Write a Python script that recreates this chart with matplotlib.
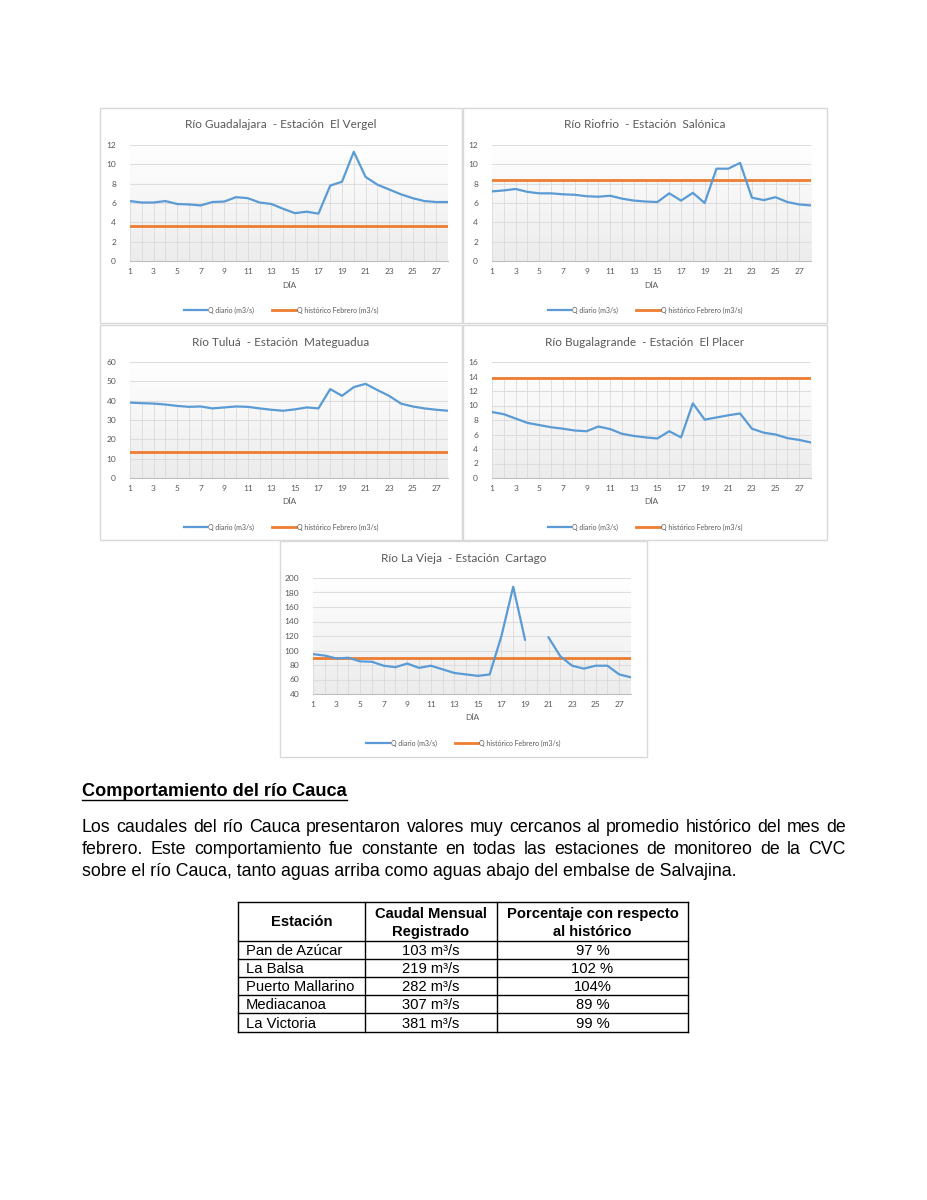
import numpy as np
import matplotlib.pyplot as plt
from matplotlib.colors import LinearSegmentedColormap
from matplotlib.lines import Line2D
from matplotlib.patches import Rectangle

# ---- data ----
days = np.arange(1, 29)

guadalajara = [6.2, 6.05, 6.05, 6.2, 5.9, 5.85, 5.75, 6.1, 6.15, 6.6, 6.5, 6.05, 5.9, 5.4,
               4.95, 5.1, 4.9, 7.8, 8.2, 11.3, 8.7, 7.9, 7.4, 6.9, 6.5, 6.2, 6.1, 6.1]
guadalajara_hist = 3.6

riofrio = [7.2, 7.3, 7.45, 7.15, 7.0, 7.0, 6.9, 6.85, 6.7, 6.65, 6.75, 6.45, 6.25, 6.15,
           6.1, 7.0, 6.25, 7.05, 6.0, 9.55, 9.55, 10.15, 6.55, 6.3, 6.6, 6.1, 5.85, 5.75]
riofrio_hist = 8.4

tulua = [39, 38.7, 38.5, 38, 37.3, 36.8, 37, 36, 36.5, 37, 36.8, 36, 35.3, 34.8,
         35.5, 36.5, 36, 46, 42.5, 47, 48.7, 45.5, 42.5, 38.5, 37, 36, 35.3, 34.8]
tulua_hist = 13.7

bugalagrande = [9.1, 8.8, 8.2, 7.6, 7.3, 7.0, 6.8, 6.55, 6.45, 7.1, 6.75, 6.1, 5.8, 5.6,
                5.45, 6.45, 5.6, 10.3, 8.05, 8.35, 8.65, 8.9, 6.8, 6.25, 6.0, 5.5, 5.25, 4.9]
bugalagrande_hist = 13.8

lavieja = [95, 93, 89, 90, 85, 84.5, 79, 77, 82, 76, 79, 74, 69, 67,
           65, 67, 120, 188, 115, np.nan, 118, 92, 79, 75, 79, 79, 67, 63]
lavieja_hist = 89

stations = ["Pan de Azúcar", "La Balsa", "Puerto Mallarino", "Mediacanoa", "La Victoria"]
caudal = [103, 219, 282, 307, 381]
porcentaje = ["97 %", "102 %", "104%", "89 %", "99 %"]

W, H = 927, 1200
BLUE = "#5B9BD5"
ORANGE = "#ED7D31"
GRAY = "#595959"
CFONT = "Lato"

fig = plt.figure(figsize=(W / 100, H / 100), dpi=100)
page = fig.add_axes([0, 0, 1, 1])
page.set_xlim(0, W)
page.set_ylim(H, 0)
page.axis("off")

# white at the top, light gray at the bottom of each plot area
grad = np.linspace(0, 1, 100).reshape(-1, 1)
grad_cmap = LinearSegmentedColormap.from_list("g", ["#ffffff", "#ececec"])


def chart(box, px0, px1, title, q, hist, ymin, ymax, step):
    bx0, by0, bx1, by1 = box
    page.add_patch(Rectangle((bx0, by0), bx1 - bx0, by1 - by0, fill=False,
                             edgecolor="#d9d9d9", lw=1))
    py0, py1 = by0 + 37, by0 + 153
    ax = fig.add_axes([px0 / W, 1 - py1 / H, (px1 - px0) / W, (py1 - py0) / H])
    ax.patch.set_alpha(0)
    ax.imshow(grad, extent=[0, 1, 0, 1], transform=ax.transAxes, cmap=grad_cmap,
              aspect="auto", zorder=0)
    q = np.array(q, dtype=float)
    ax.set_xlim(1, 28)
    ax.set_ylim(ymin, ymax)
    ax.set_yticks(np.arange(ymin, ymax + step / 2, step))
    ax.set_xticks(np.arange(1, 29, 2))
    ax.yaxis.grid(True, color="#dedede", lw=0.8)
    ax.set_axisbelow(True)
    top = np.fmax(q, hist)
    ax.vlines(days, ymin, top, color="#d6d6d6", lw=0.5, zorder=1)
    ax.plot(days, q, color=BLUE, lw=1.6, zorder=3)
    ax.plot(days, np.full(len(days), hist), color=ORANGE, lw=2.0, zorder=2)
    for s in ["top", "left", "right"]:
        ax.spines[s].set_visible(False)
    ax.spines["bottom"].set_color("#bfbfbf")
    ax.tick_params(length=0, labelsize=6, labelcolor=GRAY)
    ax.tick_params(axis="y", pad=10)
    ax.tick_params(axis="x", pad=5)
    for lab in ax.get_xticklabels() + ax.get_yticklabels():
        lab.set_fontfamily(CFONT)
    cx = (bx0 + bx1) / 2
    page.text(cx, by0 + 17, title, ha="center", va="center", fontsize=8.5,
              color=GRAY, family=CFONT)
    page.text((px0 + px1) / 2, by0 + 177, "DÍA", ha="center", va="center",
              fontsize=6, color=GRAY, family=CFONT)
    handles = [Line2D([], [], color=BLUE, lw=1.6), Line2D([], [], color=ORANGE, lw=2.0)]
    fig.legend(handles, ["Q diario (m3/s)", "Q histórico Febrero (m3/s)"],
               loc="center", bbox_to_anchor=(cx / W, 1 - (by0 + 202) / H), ncol=2,
               frameon=False, handlelength=3.4, handletextpad=0.15, columnspacing=2.6,
               prop={"family": CFONT, "size": 5.0}, labelcolor=GRAY)


chart((100, 108, 462, 323), 130, 448, "Río Guadalajara  - Estación  El Vergel",
      guadalajara, guadalajara_hist, 0, 12, 2)
chart((463, 108, 827, 323), 492, 811, "Río Riofrio  - Estación  Salónica",
      riofrio, riofrio_hist, 0, 12, 2)
chart((100, 325, 462, 540), 130, 448, "Río Tuluá  - Estación  Mateguadua",
      tulua, tulua_hist, 0, 60, 10)
chart((463, 325, 827, 540), 492, 811, "Río Bugalagrande  - Estación  El Placer",
      bugalagrande, bugalagrande_hist, 0, 16, 2)
chart((280, 541, 647, 757), 313, 631, "Río La Vieja  - Estación  Cartago",
      lavieja, lavieja_hist, 40, 200, 20)

# ---- text section ----
TFONT = "Liberation Sans"
renderer = fig.canvas.get_renderer()

head = page.text(82, 796, "Comportamiento del río Cauca", ha="left", va="baseline",
                 fontsize=13.1, fontweight="bold", family=TFONT)
hb = head.get_window_extent(renderer)
page.plot([82, 82 + hb.width], [800, 800], color="black", lw=1)

body = [
    ("Los caudales del río Cauca presentaron valores muy cercanos al promedio histórico del mes de", True),
    ("febrero. Este comportamiento fue constante en todas las estaciones de monitoreo de la CVC", True),
    ("sobre el río Cauca, tanto aguas arriba como aguas abajo del embalse de Salvajina.", False),
]
x_left, x_right = 82, 846
for i, (line, justify) in enumerate(body):
    y = 832 + 22 * i
    if not justify:
        page.text(x_left, y, line, ha="left", va="baseline", fontsize=12.8, family=TFONT)
        continue
    words = line.split(" ")
    txts = [page.text(0, y, w, ha="left", va="baseline", fontsize=12.8, family=TFONT)
            for w in words]
    widths = [t.get_window_extent(renderer).width for t in txts]
    gap = (x_right - x_left - sum(widths)) / (len(words) - 1)
    x = x_left
    for t, w in zip(txts, widths):
        t.set_x(x)
        x += w + gap

# ---- table ----
cols = [238, 365, 497, 688]
rows = [902, 941, 959, 977, 995, 1013, 1032]
for x in cols:
    page.plot([x, x], [rows[0], rows[-1]], color="black", lw=1)
for y in rows:
    page.plot([cols[0], cols[-1]], [y, y], color="black", lw=1)

tk = dict(fontsize=10.6, family=TFONT, va="baseline")
page.text((cols[0] + cols[1]) / 2, 926, "Estación", ha="center", fontweight="bold", **tk)
page.text((cols[1] + cols[2]) / 2, 918, "Caudal Mensual", ha="center", fontweight="bold", **tk)
page.text((cols[1] + cols[2]) / 2, 936, "Registrado", ha="center", fontweight="bold", **tk)
page.text((cols[2] + cols[3]) / 2, 918, "Porcentaje con respecto", ha="center", fontweight="bold", **tk)
page.text((cols[2] + cols[3]) / 2, 936, "al histórico", ha="center", fontweight="bold", **tk)
for i, (st, c, p) in enumerate(zip(stations, caudal, porcentaje)):
    y = rows[i + 2] - 4
    page.text(cols[0] + 8, y, st, ha="left", **tk)
    page.text((cols[1] + cols[2]) / 2, y, f"{c} m³/s", ha="center", **tk)
    page.text((cols[2] + cols[3]) / 2, y, p, ha="center", **tk)

fig.savefig("out.png", dpi=100)
